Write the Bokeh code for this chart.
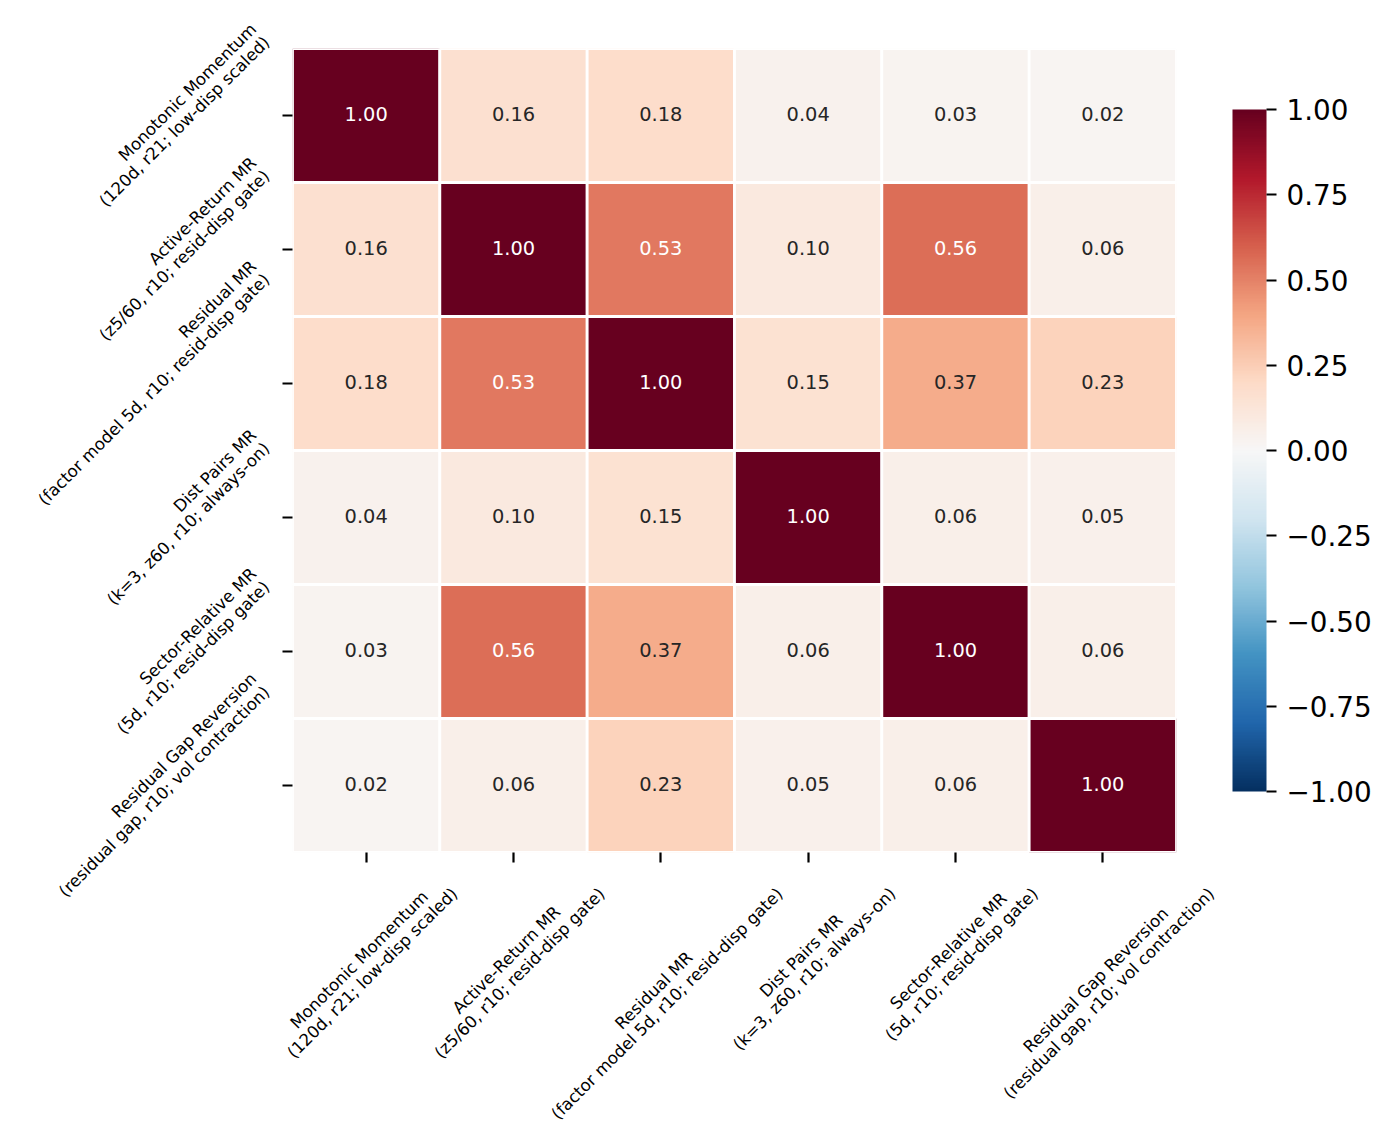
import math
import numpy as np
from bokeh.plotting import figure
from bokeh.models import (ColumnDataSource, LinearColorMapper, ColorBar, FixedTicker,
                          CustomJSTickFormatter, FactorRange)
from bokeh.core.properties import value
from bokeh.embed import file_html
from bokeh.resources import INLINE

# ---------------- data ----------------
names = ["Monotonic Momentum", "Active-Return MR", "Residual MR",
         "Dist Pairs MR", "Sector-Relative MR", "Residual Gap Reversion"]
params = ["(120d, r21; low-disp scaled)", "(z5/60, r10; resid-disp gate)",
          "(factor model 5d, r10; resid-disp gate)", "(k=3, z60, r10; always-on)",
          "(5d, r10; resid-disp gate)", "(residual gap, r10; vol contraction)"]
row0 = [1.00, 0.16, 0.18, 0.04, 0.03, 0.02]
row1 = [0.16, 1.00, 0.53, 0.10, 0.56, 0.06]
row2 = [0.18, 0.53, 1.00, 0.15, 0.37, 0.23]
row3 = [0.04, 0.10, 0.15, 1.00, 0.06, 0.05]
row4 = [0.03, 0.56, 0.37, 0.06, 1.00, 0.06]
row5 = [0.02, 0.06, 0.23, 0.05, 0.06, 1.00]
corr = [row0, row1, row2, row3, row4, row5]
cbar_ticks = [-1.0, -0.75, -0.5, -0.25, 0.0, 0.25, 0.5, 0.75, 1.0]

# ---------------- layout / style ----------------
W, H = 1390, 1144
FL, FR, FT, FB = 292, 1176, 48, 852
n = len(names)
ux = (FR - FL) / n
uy = (FB - FT) / n
FONT = "DejaVu Sans"
TICK_FS = 16.67
ANNOT_FS = 19.4
CBAR_FS = 27.8
TICK_LEN = 10
PAD = 9.7
S2 = math.sqrt(2)
NSHIFT = -5.0   # fine correction of the label baselines (perpendicular to text)

DV = {' ': 651, '(': 799, ')': 799, ',': 651, '-': 739, '.': 651, '/': 690, ';': 690,
      ':': 690, '=': 1716,
      'A': 1401, 'C': 1430, 'D': 1577, 'G': 1587, 'M': 1767, 'P': 1235, 'R': 1423, 'S': 1300,
      'a': 1255, 'b': 1300, 'c': 1126, 'd': 1300, 'e': 1260, 'f': 721, 'g': 1300, 'h': 1298,
      'i': 569, 'k': 1186, 'l': 569, 'm': 1995, 'n': 1298, 'o': 1253, 'p': 1300, 'r': 842,
      's': 1067, 't': 803, 'u': 1298, 'v': 1212, 'w': 1675, 'x': 1212, 'y': 1212, 'z': 1075}
for dch in "0123456789":
    DV[dch] = 1303


def text_w(s, fs):
    return sum(DV.get(c, 1250) for c in s) / 2048.0 * fs


# RdBu_r colormap (ColorBrewer RdBu, reversed), 256 steps
rdbu = ["#67001f", "#b2182b", "#d6604d", "#f4a582", "#fddbc7", "#f7f7f7",
        "#d1e5f0", "#92c5de", "#4393c3", "#2166ac", "#053061"][::-1]
rgb = np.array([[int(h[i:i + 2], 16) for i in (1, 3, 5)] for h in rdbu], float)
tt = np.linspace(0, 1, 256)
pos = np.linspace(0, 1, len(rdbu))
pal = ["#%02x%02x%02x" % tuple(int(round(np.interp(t, pos, rgb[:, k]))) for k in range(3))
       for t in tt]
mapper = LinearColorMapper(palette=pal, low=-1, high=1)


def lum_of(v):
    idx = min(255, max(0, int((v + 1) / 2 * 256)))
    h = pal[idx]
    c = [int(h[i:i + 2], 16) / 255 for i in (1, 3, 5)]
    c = [x / 12.92 if x <= 0.03928 else ((x + 0.055) / 1.055) ** 2.4 for x in c]
    return 0.2126 * c[0] + 0.7152 * c[1] + 0.0722 * c[2]


xs, ys, vs, ts, tcs = [], [], [], [], []
for i, rn in enumerate(names):
    for j, cn in enumerate(names):
        v = corr[i][j]
        xs.append(cn)
        ys.append(rn)
        vs.append(v)
        ts.append("%.2f" % v)
        tcs.append("#262626" if lum_of(v) > 0.408 else "#ffffff")
src = ColumnDataSource(dict(x=xs, y=ys, v=vs, t=ts, tc=tcs))

p = figure(width=W, height=H,
           x_range=FactorRange(factors=names),
           y_range=FactorRange(factors=names[::-1]),
           output_backend="svg", toolbar_location=None,
           min_border_left=FL, min_border_right=W - FR,
           min_border_top=FT, min_border_bottom=H - FB)
p.outline_line_color = None
p.grid.visible = False
p.background_fill_color = "white"
p.border_fill_color = "white"

p.rect(x="x", y="y", width=1, height=1, source=src,
       fill_color={"field": "v", "transform": mapper},
       line_color="white", line_width=2.8)
p.text(x="x", y="y", text="t", text_color="tc", source=src,
       text_align="center", text_baseline="middle", y_offset=-2,
       text_font=value(FONT), text_font_size=value("%.1fpx" % ANNOT_FS))

for ax in (p.xaxis[0], p.yaxis[0]):
    ax.axis_line_color = None
    ax.major_tick_out = TICK_LEN
    ax.major_tick_in = 0
    ax.major_tick_line_width = 2.2
    ax.major_tick_line_color = "black"
    ax.major_label_text_color = None

# ---------------- rotated two-line tick labels ----------------
fs = TICK_FS
asc, desc = 0.760 * fs, 0.208 * fs
s = desc + 1.2 * asc           # baseline-to-baseline spacing
Hb = asc + s + desc            # block height
nc = (-asc + s + desc) / 2.0   # block centre relative to first baseline

xl = dict(x=[], y=[], text=[])
for j in range(n):
    lines = [names[j], params[j]]
    Wb = max(text_w(t, fs) for t in lines)
    bx = FL + (j + 0.5) * ux
    by = FB + TICK_LEN + PAD + (Wb + Hb) / (2 * S2)
    for k, t in enumerate(lines):
        off = k * s - nc + NSHIFT
        px, py = bx + off / S2, by + off / S2
        xl["x"].append((px - FL) / ux)
        xl["y"].append((FB - py) / uy)
        xl["text"].append(t)

yl = dict(x=[], y=[], text=[])
for i in range(n):
    lines = [names[i], params[i]]
    Wb = max(text_w(t, fs) for t in lines)
    by = FT + (i + 0.5) * uy
    bx = FL - TICK_LEN - PAD - (Wb + Hb) / (2 * S2)
    for k, t in enumerate(lines):
        off = k * s - nc + NSHIFT
        px = bx + (Wb / 2) / S2 + off / S2
        py = by - (Wb / 2) / S2 + off / S2
        yl["x"].append((px - FL) / ux)
        yl["y"].append((FB - py) / uy)
        yl["text"].append(t)

for d, al in ((xl, "center"), (yl, "right")):
    p.text(x="x", y="y", text="text", source=ColumnDataSource(d),
           angle=math.pi / 4, text_align=al, text_baseline="alphabetic",
           text_font=value(FONT), text_font_size=value("%.2fpx" % fs),
           text_color="black", level="overlay")

# ---------------- colour bar ----------------
CB_L, CB_T, CB_B, CB_W = 1232, 109, 791, 34
cb = ColorBar(color_mapper=mapper, orientation="vertical",
              ticker=FixedTicker(ticks=cbar_ticks),
              formatter=CustomJSTickFormatter(
                  code="return (tick < 0 ? '\u2212' : '') + Math.abs(tick).toFixed(2);"),
              width=CB_W, height=CB_B - CB_T, padding=0, margin=0,
              location=(CB_L - FL, FB - CB_B),
              major_tick_out=10, major_tick_in=0,
              major_tick_line_color="black", major_tick_line_width=2.2,
              minor_tick_line_color=None,
              label_standoff=10,
              major_label_text_font=FONT,
              major_label_text_font_size="%.1fpx" % CBAR_FS,
              major_label_text_color="black",
              bar_line_color=None, border_line_color=None,
              background_fill_color=None)
p.add_layout(cb)

open("out.html", "w").write(file_html(p, INLINE))
